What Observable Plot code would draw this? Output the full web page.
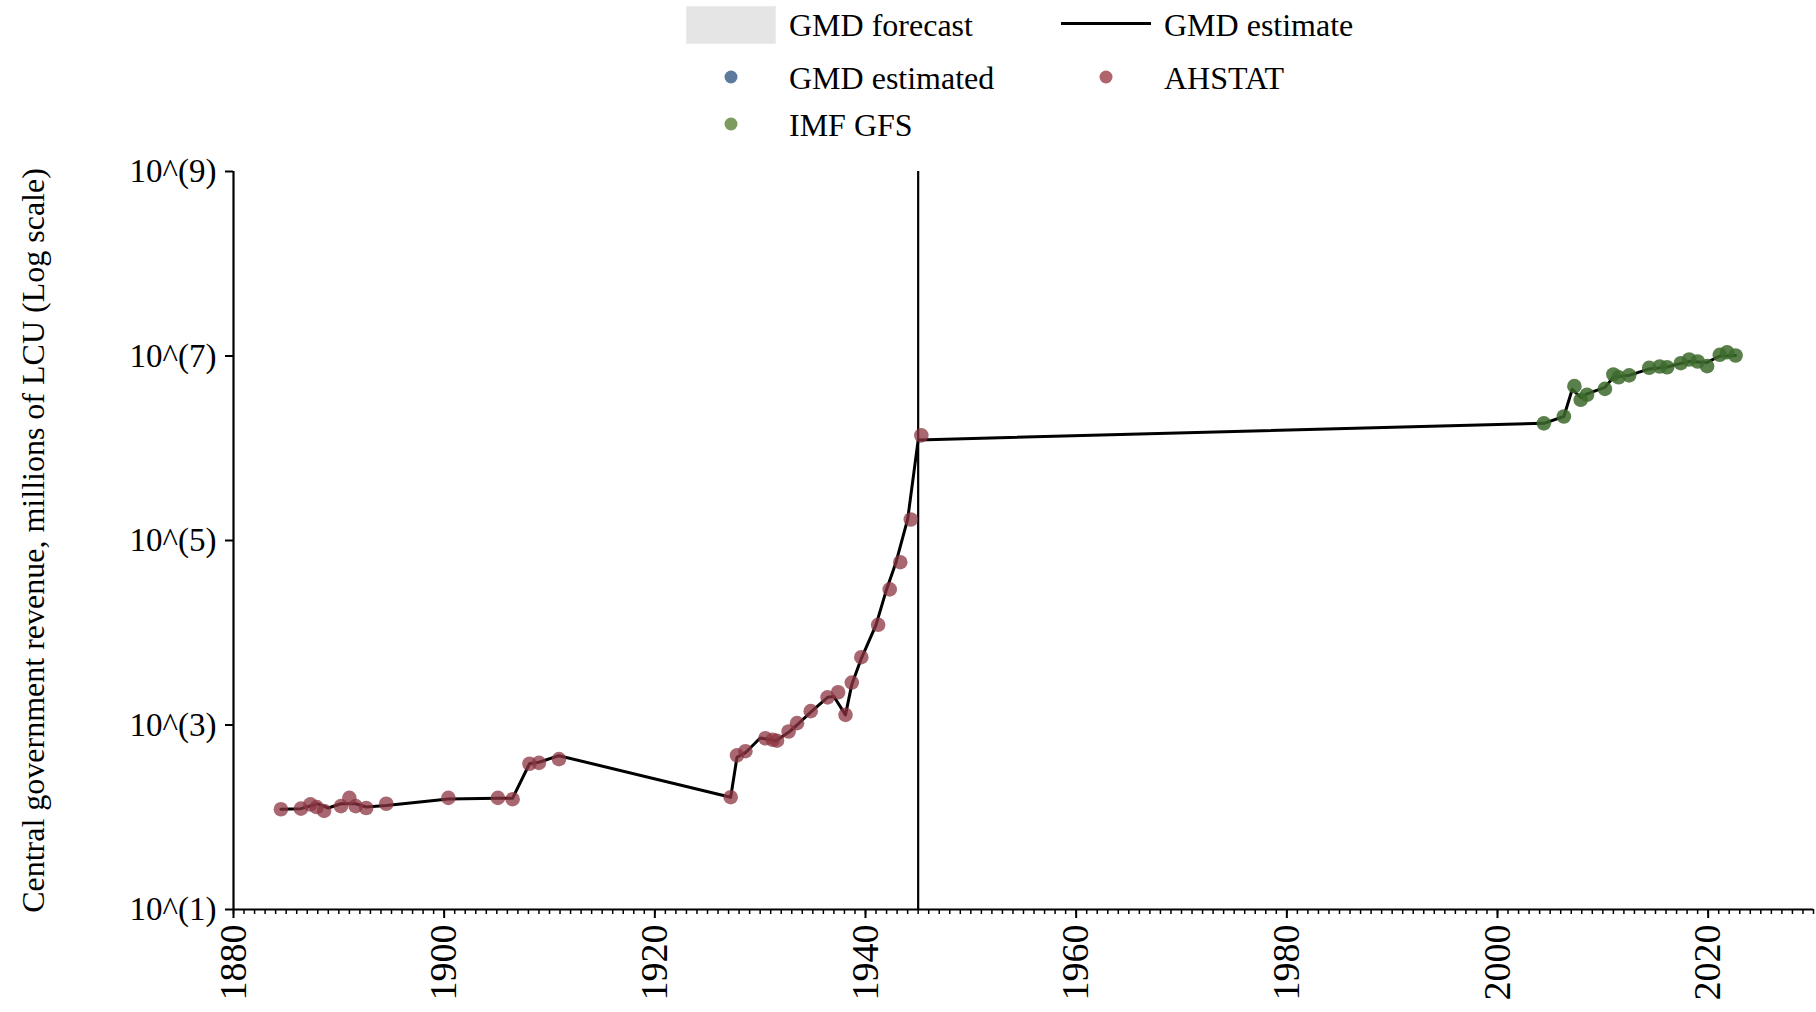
<!DOCTYPE html>
<html>
<head>
<meta charset="utf-8">
<script src="https://cdn.jsdelivr.net/npm/d3@7"></script>
<script src="https://cdn.jsdelivr.net/npm/@observablehq/plot@0.6"></script>
<style>
  html, body { margin: 0; padding: 0; background: white; }
  #wrap { width: 1816px; font-family: "Liberation Serif", "Times New Roman", serif; }
  #legend { position: relative; width: 1816px; height: 150px; font-size: 32px; color: #000; }
  #legend .t { position: absolute; line-height: 1; transform: translateY(-50%); white-space: nowrap; }
  #legend .dot { position: absolute; width: 13px; height: 13px; border-radius: 50%; transform: translate(-50%, -50%); }
  #chart svg, #chart svg text { font-family: "Liberation Serif", "Times New Roman", serif !important; }
</style>
</head>
<body>
<div id="wrap">
  <div id="legend">
    <div style="position:absolute;left:686px;top:6px;width:88px;height:36px;background:#e5e5e5;border:1px solid #ececec;"></div>
    <div class="t" style="left:789px;top:25px;">GMD forecast</div>
    <div style="position:absolute;left:1061px;top:22px;width:90px;height:3px;background:#000;"></div>
    <div class="t" style="left:1164px;top:25px;">GMD estimate</div>
    <div class="dot" style="left:731px;top:77px;background:#5b7a9c;"></div>
    <div class="t" style="left:789px;top:78px;">GMD estimated</div>
    <div class="dot" style="left:1106px;top:77px;background:#b0646b;"></div>
    <div class="t" style="left:1164px;top:78px;">AHSTAT</div>
    <div class="dot" style="left:731px;top:124px;background:#7b9c5d;"></div>
    <div class="t" style="left:789px;top:125px;">IMF GFS</div>
  </div>
  <div id="chart"></div>
</div>
<script>
// AHSTAT observations (year, millions of LCU)
const ahstatYear = [1884.5,1886.4,1887.3,1887.9,1888.6,1890.2,1891.0,1891.6,1892.6,1894.5,1900.4,1905.1,1906.5,1908.1,1909.0,1910.9,1927.2,1927.8,1928.6,1930.5,1931.2,1931.6,1932.7,1933.5,1934.8,1936.4,1937.4,1938.1,1938.7,1939.6,1941.2,1942.3,1943.3,1944.3,1945.3];
const ahstatValue = [122,124,138,129,117,132,162,132,126,140,162,162,157,380,389,427,165,468,520,719,692,676,851,1047,1413,1995,2265,1288,2884,5433,12190,29510,58210,169000,1380000];

// IMF GFS observations
const imfYear = [2004.4,2006.3,2007.3,2007.9,2008.5,2010.2,2011.0,2011.5,2012.5,2014.4,2015.4,2016.1,2017.4,2018.2,2019.0,2019.9,2021.1,2021.8,2022.6];
const imfValue = [1862000,2208000,4710000,3350000,3802000,4406000,6310000,5888000,6166000,7447000,7691000,7551000,8356000,9162000,8710000,7762000,10300000,10990000,10120000];

// GMD estimate line
const gmdYear = [1884.5,1886.4,1888.0,1889.0,1890.2,1891.6,1892.6,1894.5,1900.4,1905.1,1906.5,1908.1,1909.0,1910.9,1927.2,1927.8,1928.6,1930.0,1931.5,1932.7,1933.5,1934.8,1936.4,1937.0,1938.1,1938.7,1939.6,1941.0,1942.0,1942.9,1944.0,1944.66,1945.0,2004.4,2006.3,2007.1,2007.9,2008.5,2010.2,2011.0,2012.5,2014.4,2016.1,2017.4,2018.2,2019.9,2021.1,2022.6];
const gmdValue = [122,124,140,126,140,140,129,134,158,161,161,380,395,465,165,447,501,724,676,832,1000,1380,1995,2037,1288,2754,5248,12190,29510,58210,169000,623700,1230000,1862000,2208000,4365000,3548000,3890000,4571000,5888000,6166000,7244000,7586000,8318000,8710000,8511000,10000000,10120000];

// reference year (vertical rule) and tick values
const ruleYear = [1945];
const xMajorTicks = [1880,1900,1920,1940,1960,1980,2000,2020];
const xMinorTicks = d3.range(1880, 2031);
const yTicks = [1e1,1e3,1e5,1e7,1e9];

const ahstat = ahstatYear.map((y,i) => ({year:y, value:ahstatValue[i]}));
const imf = imfYear.map((y,i) => ({year:y, value:imfValue[i]}));
const gmd = gmdYear.map((y,i) => ({year:y, value:gmdValue[i]}));

const chart = Plot.plot({
  width: 1816,
  height: 862,
  marginLeft: 233,
  marginRight: 3,
  marginTop: 21,
  marginBottom: 103,
  style: { fontFamily: "'Liberation Serif', 'Times New Roman', serif", background: "white", color: "black" },
  x: { domain: [1880, 2030] },
  y: { type: "log", domain: [10, 1e9] },
  marks: [
    Plot.ruleX(ruleYear, { stroke: "black", strokeWidth: 2.2 }),
    Plot.line(gmd, { x: "year", y: "value", stroke: "black", strokeWidth: 3 }),
    Plot.dot(ahstat, { x: "year", y: "value", r: 7.3, fill: "#8c3541", fillOpacity: 0.75, stroke: "none" }),
    Plot.dot(imf, { x: "year", y: "value", r: 7.3, fill: "#3c6a2b", fillOpacity: 0.85, stroke: "none" }),
    Plot.axisX({ ticks: xMinorTicks, tickSize: 5, tickFormat: () => "", strokeWidth: 1.5, label: null }),
    Plot.axisX({ ticks: xMajorTicks, tickSize: 9, tickPadding: 6, tickRotate: -90, tickFormat: d => String(d), fontSize: 38, strokeWidth: 2, label: null }),
    Plot.axisY({ ticks: yTicks, tickSize: 8, tickPadding: 9, fontSize: 33, strokeWidth: 2,
      tickFormat: d => `10^(${Math.round(Math.log10(d))})`,
      label: "Central government revenue, millions of LCU (Log scale)", labelAnchor: "center", labelArrow: "none", labelOffset: 212 }),
    Plot.ruleY([10], { stroke: "black", strokeWidth: 2.2 }),
    Plot.ruleX([1880], { stroke: "black", strokeWidth: 2.2 })
  ]
});
document.getElementById("chart").appendChild(chart);
chart.querySelectorAll("g[aria-label='y-axis label'] text").forEach(t => t.setAttribute("font-size", "32"));
</script>
</body>
</html>
